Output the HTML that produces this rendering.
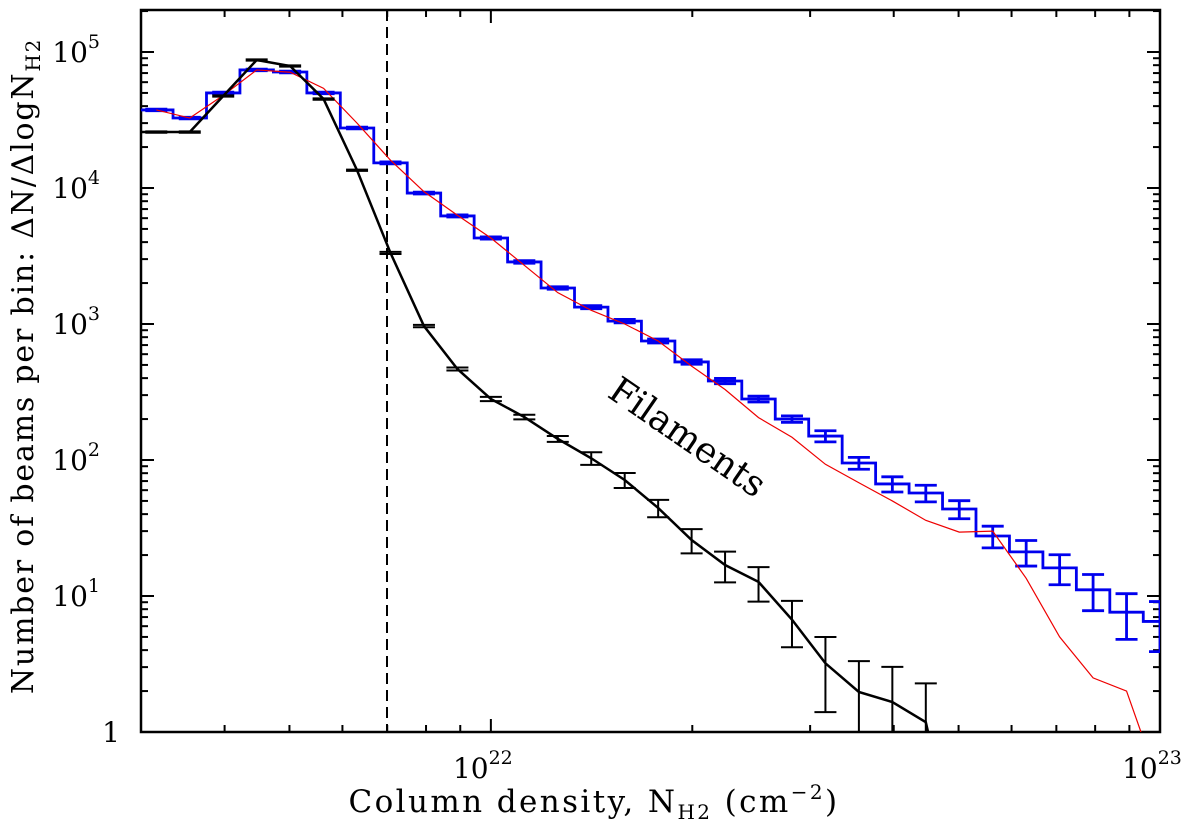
<!DOCTYPE html>
<html><head><meta charset="utf-8"><style>
html,body{margin:0;padding:0;background:#fff;overflow:hidden;width:1200px;height:832px;}
svg{display:block;font-family:"DejaVu Serif","Liberation Serif",serif;}
</style></head><body>
<svg id="chart" width="1200" height="832" viewBox="0 0 1200 832" xmlns="http://www.w3.org/2000/svg">
<g id="axes"></g>
<g id="series"></g>
<text x="0" y="0" font-size="36" transform="translate(606,396) rotate(34.5)">Filaments</text>
<text x="594" y="812" font-size="31" letter-spacing="2.4" text-anchor="middle">Column density, N<tspan font-size="20" dy="7">H2</tspan><tspan dy="-7"> (cm</tspan><tspan font-size="20" dy="-13">−2</tspan><tspan dy="13">)</tspan></text>
<text transform="translate(33,366) rotate(-90)" font-size="30" letter-spacing="1.8" text-anchor="middle">Number of beams per bin: ΔN/ΔlogN<tspan font-size="20" dy="7">H2</tspan></text>
</svg>
<script>
// bin centres in log10(N_H2 / cm^-2)
const logCenters = [21.50,21.55,21.60,21.65,21.70,21.75,21.80,21.85,21.90,21.95,22.00,22.05,22.10,22.15,22.20,22.25,22.30,22.35,22.40,22.45,22.50,22.55,22.60,22.65,22.70,22.75,22.80,22.85,22.90,22.95,23.00];
// total (blue histogram)
const blueValues = [37500,32700,50000,73800,71300,50000,27600,15300,9180,6230,4290,2860,1840,1330,1050,750,526,381,281,200,150,95,66.7,57.2,43.6,27.6,21.1,16.1,11.1,7.6,6.5];
const blueErr = [500,450,700,1000,1000,700,400,250,150,110,80,60,40,35,30,25,20,17,14,11,14,9.5,8.5,8,6.6,5,4.5,4,3.3,2.8,2.6];
// model (red line)
const redValues = [37500,32700,48000,73800,71000,54000,30000,16000,9400,6300,4290,2700,1700,1260,1000,750,490,330,205,147,93,68,50,36,29.5,30,13.5,5,2.5,2.0,0.4];
// filaments (black line)
const blackValues = [25800,25800,47500,87300,78900,45100,13500,3330,966,467,281,207,143,103,71.3,44.4,25.8,16.9,12.7,6.7,3.2,1.97,1.66,1.18,0.1];
const blackErr = [300,300,500,900,800,500,150,60,20,12,10,8,7,11,9,6.5,5.2,4.3,3.6,2.5,1.8,1.35,1.35,1.1,0];
const yTickLabels = ["1","10","10","10","10","10"];
const yTickExps = ["","1","2","3","4","5"];
const xTickLabels = ["10","10"];
const xTickExps = ["22","23"];

const L=141,R=1160,T=10,B=732;
const XMIN=Math.log10(3e21),XMAX=23;
const DEC=136;
function xS(lg){return L+(lg-XMIN)/(XMAX-XMIN)*(R-L);}
function yS(v){return B-Math.log10(v)*DEC;}
const NS="http://www.w3.org/2000/svg";
function mk(tag,attrs,parent){const e=document.createElementNS(NS,tag);for(const k in attrs)e.setAttribute(k,attrs[k]);parent.appendChild(e);return e;}
// cut a polyline where it first drops below the bottom axis
function clipBottom(pts){
  const out=[];
  for(let i=0;i<pts.length;i++){
    const p=pts[i];
    if(p[1]<=B){out.push(p);continue;}
    if(i>0){const q=pts[i-1];const t=(B-q[1])/(p[1]-q[1]);out.push([q[0]+t*(p[0]-q[0]),B]);}
    break;
  }
  return out.map(p=>p[0]+','+p[1]).join(' ');
}
const axes=document.getElementById('axes'),ser=document.getElementById('series');

const defs=mk('defs',{},document.getElementById('chart'));
const cp=mk('clipPath',{id:'clip'},defs);
mk('rect',{x:L,y:T,width:R-L,height:B-T},cp);
ser.setAttribute('clip-path','url(#clip)');

const frame=mk('rect',{x:L,y:T,width:R-L,height:B-T,fill:'none',stroke:'#000','stroke-width':2.5},axes);



for(let d=0;d<=5;d++){
  for(let m=1;m<=9;m++){
    const v=m*Math.pow(10,d);const y=yS(v);
    if(y<T)continue;
    const len=m===1?13:7;
    const t1=mk('line',{x1:L,y1:y,x2:L+len,y2:y,stroke:'#000','stroke-width':2},axes);
    
    
    const t2=mk('line',{x1:R,y1:y,x2:R-len,y2:y,stroke:'#000','stroke-width':2},axes);
    
    
  }
}
yTickLabels.forEach((lab,i)=>{
  const y=yS(Math.pow(10,i));
  const t=mk('text',{x:i===0?120:100,y:y+10,'font-size':28,'text-anchor':'end'},axes);
  
  
  t.textContent=lab;
  if(yTickExps[i]){const s=mk('tspan',{'font-size':19,dy:-14},t);s.textContent=yTickExps[i];}
});
for(let d=21;d<=22;d++){
  for(let m=1;m<=9;m++){
    const lg=d+Math.log10(m);
    if(lg<XMIN-1e-6||lg>XMAX+1e-6)continue;
    const x=xS(lg);const len=m===1?13:7;
    const t1=mk('line',{x1:x,y1:B,x2:x,y2:B-len,stroke:'#000','stroke-width':2},axes);
    
    
    const t2=mk('line',{x1:x,y1:T,x2:x,y2:T+len,stroke:'#000','stroke-width':2},axes);
    
    
  }
}
xTickLabels.forEach((lab,i)=>{
  const x=xS(22+i);
  const t=mk('text',{x:x-8,y:778,'font-size':28,'text-anchor':'middle'},axes);
  
  
  t.textContent=lab;
  const s=mk('tspan',{'font-size':19,dy:-14},t);s.textContent=xTickExps[i];
});

const dl=mk('line',{x1:387,y1:T,x2:387,y2:B,stroke:'#000','stroke-width':2,'stroke-dasharray':'11,6'},ser);



const hw=0.025;
let d='';
blueValues.forEach((v,i)=>{
  const x0=xS(logCenters[i]-hw),x1=xS(logCenters[i]+hw),y=Math.min(yS(v),B);
  d+=(i===0?'M':'L')+x0+','+y+' L'+x1+','+y+' ';
});
const bh=mk('path',{d:d,fill:'none',stroke:'#0000ee','stroke-width':2.8},ser);


blueValues.forEach((v,i)=>{
  const x=xS(logCenters[i]);const e=blueErr[i];
  const yh=yS(v+e),yl=Math.min(yS(Math.max(v-e,1e-3)),B);
  const g=mk('path',{d:`M${x},${yh}L${x},${yl}M${x-11},${yh}L${x+11},${yh}M${x-11},${yl}L${x+11},${yl}`,stroke:'#0000ee','stroke-width':2.8,fill:'none'},ser);
  
  
});

const rp=clipBottom(redValues.map((v,i)=>[xS(logCenters[i]),yS(v)]));
const rl=mk('polyline',{points:rp,fill:'none',stroke:'#ee0000','stroke-width':1.2},ser);



const bp=clipBottom([[L,yS(blackValues[0])]].concat(blackValues.map((v,i)=>[xS(logCenters[i]),yS(v)])));
const bl=mk('polyline',{points:bp,fill:'none',stroke:'#000','stroke-width':2.5},ser);


blackValues.forEach((v,i)=>{
  if(!blackErr[i])return;
  const x=xS(logCenters[i]);const e=blackErr[i];
  const yh=yS(v+e),yl=Math.min(yS(Math.max(v-e,1e-3)),B+2);
  const g=mk('path',{d:`M${x},${yh}L${x},${yl}M${x-11},${yh}L${x+11},${yh}M${x-11},${yl}L${x+11},${yl}`,stroke:'#000','stroke-width':2,fill:'none'},ser);
  
  
});
</script>
</body></html>
